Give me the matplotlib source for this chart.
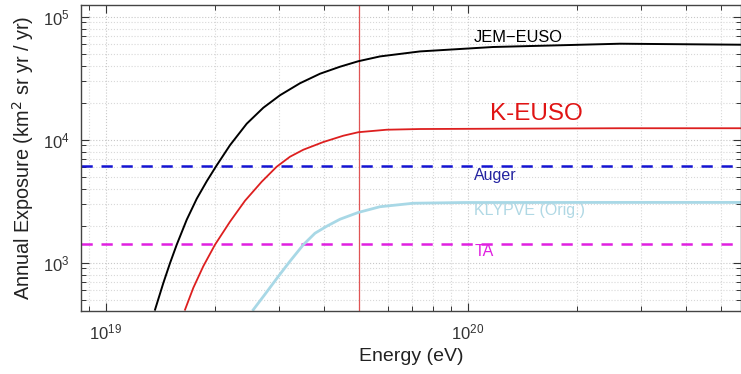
import matplotlib
matplotlib.use("Agg")
import matplotlib.pyplot as plt
from matplotlib.ticker import LogLocator, NullFormatter

plt.rcParams['font.family'] = ['Liberation Sans', 'DejaVu Sans']

# Energies (eV) and annual exposure (km^2 sr yr / yr)
jem_E = [1.366e19, 1.440e19, 1.503e19, 1.568e19, 1.671e19, 1.781e19, 1.898e19,
         2.013e19, 2.200e19, 2.447e19, 2.720e19, 3.025e19, 3.435e19, 3.901e19,
         4.430e19, 4.978e19, 5.713e19, 7.369e19, 1.172e20, 2.630e20, 5.677e20]
jem_X = [415, 684, 995, 1401, 2237, 3314, 4598,
         6066, 9022, 13490, 18200, 23000, 28790, 34400,
         39220, 43470, 47560, 52230, 56730, 60330, 59210]

keuso_E = [1.653e19, 1.743e19, 1.857e19, 2.000e19, 2.200e19, 2.421e19, 2.692e19,
           2.961e19, 3.223e19, 3.508e19, 3.984e19, 4.524e19, 4.978e19, 5.962e19,
           7.369e19, 2.630e20, 5.677e20]
keuso_X = [415, 626, 937, 1401, 2154, 3192, 4555,
           6033, 7275, 8293, 9579, 10780, 11510, 12060,
           12220, 12400, 12400]

klypve_E = [2.552e19, 2.749e19, 2.992e19, 3.223e19, 3.508e19, 3.778e19, 4.071e19,
            4.430e19, 4.978e19, 5.713e19, 7.062e19, 9.726e19, 2.630e20, 5.677e20]
klypve_X = [415, 554, 774, 1029, 1401, 1737, 1980,
            2258, 2564, 2853, 3046, 3086, 3092, 3092]

auger_X = 6100
ta_X = 1420
e_marker = 5e19

fig = plt.figure(figsize=(7.41, 3.74), dpi=100)
ax = fig.add_axes([0.1093, 0.1684, 0.8907, 0.8182])

ax.set_xscale('log')
ax.set_yscale('log')
ax.set_xlim(8.53e18, 5.675e20)
ax.set_ylim(405, 1.245e5)

ax.grid(True, which='major', linestyle=':', color='#c8c8c8', lw=0.8)
ax.grid(True, which='minor', linestyle=':', color='#d8d8d8', lw=0.8)
ax.set_axisbelow(True)

ax.axhline(auger_X, color='#1414d2', lw=1.8, ls=(0, (4.5, 3.5)))
ax.axhline(ta_X, color='#e020e0', lw=1.8, ls=(0, (4.5, 3.5)))
ax.axvline(e_marker, color='#e05555', lw=0.9)

ax.plot(jem_E, jem_X, color='black', lw=1.4)
ax.plot(keuso_E, keuso_X, color='#dd1f1f', lw=1.3)
ax.plot(klypve_E, klypve_X, color='#a8d8e6', lw=2.0)

ax.text(1.04e20, 67400, 'JEM\u2212EUSO', color='black', fontsize=11.8, va='center')
ax.text(1.15e20, 16300, 'K-EUSO', color='#e01414', fontsize=17.5, va='center')
ax.text(1.04e20, 5090, 'Auger', color='#2222a0', fontsize=11.5, va='center')
ax.text(1.04e20, 2650, 'KLYPVE (Orig.)', color='#b0d8e4', fontsize=11.5, va='center')
ax.text(1.04e20, 1228, 'TA', color='#e020e0', fontsize=11.5, va='center')

ax.xaxis.set_major_locator(LogLocator(base=10, numticks=10))
ax.xaxis.set_minor_locator(LogLocator(base=10, subs=range(2, 10), numticks=20))
ax.xaxis.set_minor_formatter(NullFormatter())
ax.yaxis.set_minor_locator(LogLocator(base=10, subs=range(2, 10), numticks=20))
ax.yaxis.set_minor_formatter(NullFormatter())

ax.tick_params(which='both', direction='in', top=True, right=True,
               labelsize=12, colors='#333333')
ax.tick_params(which='major', length=6, width=0.8, pad=8)
ax.tick_params(which='minor', length=3.5, width=0.7)
for s in ax.spines.values():
    s.set_color('#444444')
    s.set_linewidth(1.0)

ax.set_xlabel('Energy (eV)', fontsize=14, color='#222222', labelpad=4)
ax.set_ylabel('Annual Exposure (km$^2$ sr yr / yr)', fontsize=14.3,
              color='#222222', labelpad=5)

fig.savefig('out.png', dpi=100)
